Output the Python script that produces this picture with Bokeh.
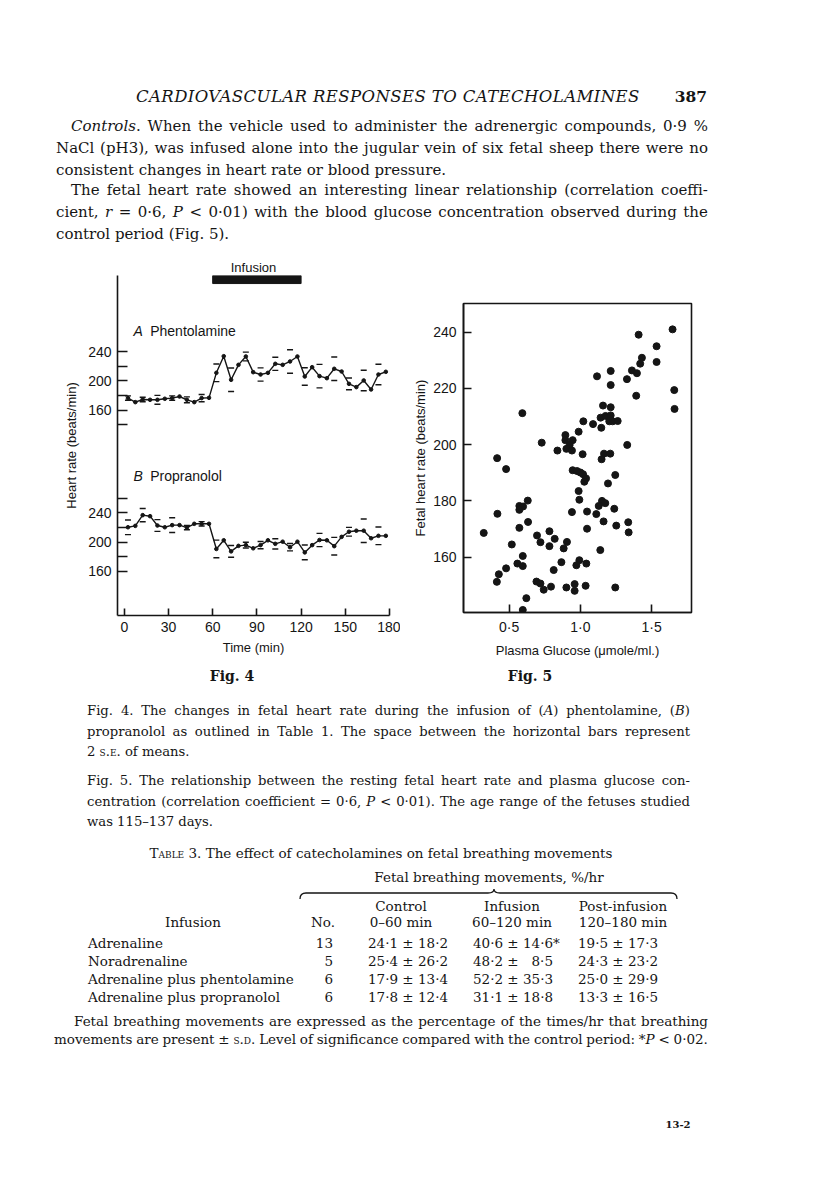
import re
from bokeh.plotting import figure
from bokeh.models import Range1d, FixedTicker, Div
from bokeh.layouts import column, row
from bokeh.embed import file_html
from bokeh.resources import INLINE
from bokeh.core.properties import value

NAN = float("nan")
SANS = "Liberation Sans"
SERIF = "DejaVu Serif"
INK = "#151515"

# ---------------- Fig. 4 data ----------------
time_min = [2.5, 7.5, 12.5, 17.5, 22.5, 27.5, 32.5, 37.5, 42.5, 47.5, 52.5, 57.5,
            62.5, 67.5, 72.5, 77.5, 82.5, 87.5, 92.5, 97.5, 102.5, 107.5, 112.5, 117.5,
            122.5, 127.5, 132.5, 137.5, 142.5, 147.5, 152.5, 157.5, 162.5, 167.5, 172.5, 177.5]
phentolamine = [176.4, 170.9, 174.5, 174.1, 174.1, 175.5, 176.4, 178.6, 174.1, 170.9, 176.4, 176.8,
                210.9, 233.6, 201.4, 221.8, 233.2, 211.8, 208.6, 210.9, 223.2, 221.8, 226.4, 233.2,
                205.9, 218.6, 206.4, 203.6, 216.4, 212.7, 195.9, 191.4, 200.5, 188.2, 208.6, 212.3]
phentolamine_se = [3, NAN, 3, NAN, 6, NAN, 3, NAN, 4, NAN, 5, NAN,
                   12, NAN, 16, NAN, 6, NAN, 9, NAN, 9, NAN, 16, NAN,
                   12, NAN, 16, NAN, 16, NAN, 8, NAN, 14, NAN, 14, NAN]
propranolol = [220.2, 222.1, 236.7, 235.3, 222.6, 220.2, 223.1, 223.1, 219.8, 224.9, 224.9, 224.9,
               190.6, 202.4, 187.3, 194.8, 195.8, 191.5, 195.8, 202.4, 197.6, 200.5, 193.0, 200.5,
               185.9, 195.8, 202.8, 202.4, 194.4, 207.1, 214.1, 215.5, 215.5, 205.2, 208.5, 208.5]
propranolol_se = [10, NAN, 9, NAN, 8, NAN, 10, NAN, 3, NAN, 3, NAN,
                  12, NAN, 8, NAN, 4, NAN, 5, NAN, 7, NAN, 5, NAN,
                  10, NAN, 9, NAN, 12, NAN, 6, NAN, 16, NAN, 12, NAN]
infusion_period = [60, 120]
time_ticks = [0, 30, 60, 90, 120, 150, 180]
hr_ticks_a = [140, 160, 180, 200, 220, 240]
hr_ticks_b = [160, 180, 200, 220, 240, 260]
hr_labelled = [160, 200, 240]
panel_b_shift = 220          # panel B is drawn 220 beats/min lower on the shared scale

# ---------------- Fig. 5 data ----------------
glucose = [1.647, 1.409, 1.535, 1.432, 1.535, 1.420, 1.362, 1.397, 1.213, 1.117, 1.327, 1.213,
           1.659, 1.392, 1.661, 0.593, 1.213, 1.159, 1.142, 1.177, 1.213, 1.203, 1.227, 1.262,
           1.021, 1.089, 1.147, 0.988, 0.895, 0.895, 0.946, 0.729, 1.329, 0.925, 0.902, 0.839,
           0.941, 1.166, 1.210, 1.016, 0.416, 1.149, 0.479,
           0.946, 0.977, 1.000, 1.019, 1.040, 1.028, 1.245, 1.194, 0.988, 0.993, 0.631, 0.572,
           0.598, 0.572, 1.152, 1.175, 1.129, 1.238, 0.941, 1.047, 0.418, 1.112, 1.163, 0.633,
           1.336, 1.252, 0.572, 1.047, 1.339, 0.322, 0.783, 0.696, 0.820, 0.906, 0.720, 0.519,
           0.783, 0.883, 1.140, 0.596, 0.993, 0.867, 0.558, 0.596, 1.042, 0.972, 0.479, 0.813,
           0.428, 0.414, 0.692, 0.720, 0.960, 1.037, 0.794, 0.902, 1.245, 0.743, 0.960, 0.621,
           0.596]
fetal_hr = [241.0, 239.1, 235.0, 230.9, 229.4, 228.8, 226.4, 225.4, 226.2, 224.3, 223.3, 221.2,
            219.4, 217.4, 212.7, 211.2, 213.3, 213.9, 209.6, 210.2, 210.4, 208.3, 208.3, 208.4,
            208.3, 207.3, 206.0, 204.6, 203.4, 201.6, 201.6, 200.7, 199.9, 199.9, 198.5, 197.9,
            197.9, 196.8, 196.8, 196.6, 195.2, 194.8, 191.3,
            190.9, 190.6, 190.1, 189.5, 188.0, 186.8, 189.2, 186.2, 183.5, 180.4, 180.1, 178.2,
            178.0, 176.8, 180.0, 179.2, 178.2, 177.2, 176.0, 176.2, 175.4, 175.3, 172.7, 172.5,
            172.4, 171.2, 170.4, 170.1, 168.8, 168.6, 169.2, 167.7, 166.5, 165.4, 165.3, 164.5,
            163.9, 163.1, 162.5, 160.4, 158.9, 158.2, 157.7, 156.8, 157.7, 157.1, 156.0, 155.4,
            153.9, 151.2, 151.3, 150.6, 150.4, 149.8, 149.5, 149.2, 149.2, 148.4, 148.0, 145.4,
            141.2]
glucose_ticks = [0.5, 1.0, 1.5]
glucose_tick_labels = ["0·5", "1·0", "1·5"]
fhr_ticks = [160, 180, 200, 220, 240]

# ---------------- Table 3 ----------------
tbl_infusion = ["Adrenaline", "Noradrenaline", "Adrenaline plus phentolamine", "Adrenaline plus propranolol"]
tbl_n = ["13", "5", "6", "6"]
tbl_control = ["24·1 ± 18·2", "25·4 ± 26·2", "17·9 ± 13·4", "17·8 ± 12·4"]
tbl_infus = ["40·6 ± 14·6*", "48·2 ±&nbsp;&nbsp;&nbsp;8·5", "52·2 ± 35·3", "31·1 ± 18·8"]
tbl_post = ["19·5 ± 17·3", "24·3 ± 23·2", "25·0 ± 29·9", "13·3 ± 16·5"]


def style_axis(ax, tick_in, label_size="14px"):
    ax.axis_line_color = INK
    ax.axis_line_width = 1.6
    ax.major_tick_line_color = INK
    ax.major_tick_line_width = 1.6
    ax.major_tick_in = tick_in
    ax.major_tick_out = 0
    ax.minor_tick_line_color = None
    ax.major_label_text_font = SANS
    ax.major_label_text_font_size = label_size
    ax.major_label_text_color = INK
    ax.axis_label_text_font = SANS
    ax.axis_label_text_font_size = "13px"
    ax.axis_label_text_font_style = "normal"
    ax.axis_label_text_color = INK


# ---------------- Fig. 4 ----------------
ya0, ya1 = -120.2, 343.7
p4 = figure(width=400, height=410, x_range=Range1d(-4.6, 180), y_range=Range1d(ya0, ya1),
            output_backend="svg", toolbar_location=None,
            min_border_left=117, min_border_right=11, min_border_top=25, min_border_bottom=45)
p4.extra_y_ranges = {"b": Range1d(ya0 + panel_b_shift, ya1 + panel_b_shift)}
p4.grid.visible = False
p4.outline_line_color = None
p4.background_fill_color = None
p4.border_fill_color = None
p4.title.text = "Infusion"
p4.title.align = "center"
p4.title.text_font = SANS
p4.title.text_font_size = "13px"
p4.title.text_font_style = "normal"
p4.title.text_color = INK
p4.title.standoff = 2

style_axis(p4.xaxis[0], 7)
p4.xaxis.ticker = FixedTicker(ticks=time_ticks)
p4.xaxis.major_label_standoff = 6
p4.xaxis.axis_label = "Time (min)"
p4.xaxis.axis_label_standoff = 5

style_axis(p4.yaxis[0], 10)
p4.yaxis.ticker = FixedTicker(ticks=hr_ticks_a + [v - panel_b_shift for v in hr_ticks_b])
overrides = {}
for v in hr_ticks_a:
    overrides[v] = str(v) if v in hr_labelled else ""
for v in hr_ticks_b:
    overrides[v - panel_b_shift] = str(v) if v in hr_labelled else ""
p4.yaxis.major_label_overrides = overrides
p4.yaxis.major_label_standoff = 6
p4.yaxis.axis_label = "Heart rate (beats/min)"
p4.yaxis.axis_label_standoff = 6

# infusion bar
p4.quad(left=[infusion_period[0]], right=[infusion_period[1]], top=[ya1], bottom=[ya1 - 11],
        color=INK)

for series, se, rng in ((phentolamine, phentolamine_se, "default"),
                        (propranolol, propranolol_se, "b")):
    hi = [v + s for v, s in zip(series, se)]
    lo = [v - s for v, s in zip(series, se)]
    p4.line(time_min, series, line_color=INK, line_width=1.4, y_range_name=rng)
    p4.scatter(time_min, series, size=3.6, color=INK, y_range_name=rng)
    p4.scatter(time_min, hi, marker="dash", size=6, line_width=1.4, line_color=INK, y_range_name=rng)
    p4.scatter(time_min, lo, marker="dash", size=6, line_width=1.4, line_color=INK, y_range_name=rng)

p4.text(x=[6.2], y=[267.3], text=["A"], text_font=value(SANS), text_font_style="italic",
        text_font_size="14px", text_baseline="middle", text_color=INK)
p4.text(x=[17.6], y=[267.3], text=["Phentolamine"], text_font=value(SANS),
        text_font_size="14px", text_baseline="middle", text_color=INK)
p4.text(x=[6.2], y=[290.8], text=["B"], text_font=value(SANS), text_font_style="italic",
        text_font_size="14px", text_baseline="middle", text_color=INK, y_range_name="b")
p4.text(x=[17.6], y=[290.8], text=["Propranolol"], text_font=value(SANS),
        text_font_size="14px", text_baseline="middle", text_color=INK, y_range_name="b")

# ---------------- Fig. 5 ----------------
p5 = figure(width=416, height=410, x_range=Range1d(0.18, 1.78), y_range=Range1d(140.3, 250.2),
            output_backend="svg", toolbar_location=None,
            min_border_left=63, min_border_right=125, min_border_top=53, min_border_bottom=45)
p5.grid.visible = False
p5.background_fill_color = None
p5.border_fill_color = None
p5.outline_line_color = INK
p5.outline_line_width = 1.6
p5.outline_line_alpha = 1.0
style_axis(p5.xaxis[0], 8)
style_axis(p5.yaxis[0], 8)
p5.xaxis.ticker = FixedTicker(ticks=glucose_ticks)
p5.xaxis.major_label_overrides = {t: l for t, l in zip(glucose_ticks, glucose_tick_labels)}
p5.xaxis.major_label_standoff = 6
p5.xaxis.axis_label = "Plasma Glucose (\u03bcmole/ml.)"
p5.xaxis.axis_label_standoff = 5
p5.yaxis.ticker = FixedTicker(ticks=fhr_ticks)
p5.yaxis.major_label_standoff = 7
p5.yaxis.axis_label = "Fetal heart rate (beats/min)"
p5.yaxis.axis_label_standoff = 2
p5.scatter(glucose, fetal_hr, size=7, color=INK)


# ---------------- page text (page pixel coordinates) ----------------
def tline(html, x, y, fs, oy, right=None, align="left", family=SERIF, extra=""):
    lh = round(fs * 1.25)
    top = y - oy - lh / 2
    st = (f"position:absolute;top:{top:.1f}px;font-family:'{family}';font-size:{fs}px;"
          f"line-height:{lh}px;color:{INK};white-space:nowrap;")
    if align == "center":
        st += f"left:{x - 250:.1f}px;width:500px;text-align:center;"
    elif align == "right":
        st += f"left:{x - 300:.1f}px;width:300px;text-align:right;"
    elif align == "justify":
        st += f"left:{x:.1f}px;width:{right - x}px;display:flex;justify-content:space-between;"
        words = re.split(r" (?![^<]*>)", html)
        html = "".join(f"<span>{w}</span>" for w in words)
    else:
        st += f"left:{x:.1f}px;"
    return f'<div style="{st}{extra}">{html}</div>'


SC = 'style="font-variant:small-caps"'
R = 708

head = []
oy = 0
head.append(tline("<i>CARDIOVASCULAR RESPONSES TO CATECHOLAMINES</i>", 386, 96, 16.5, oy,
                  align="center", extra="letter-spacing:0.4px;"))
head.append(tline("<b>387</b>", 707, 96, 15.5, oy, align="right"))
BL, BI = 56, 71
body = [
    (BI, 126, "<i>Controls</i>. When the vehicle used to administer the adrenergic compounds, 0·9 %", True),
    (BL, 148, "NaCl (pH3), was infused alone into the jugular vein of six fetal sheep there were no", True),
    (BL, 170, "consistent changes in heart rate or blood pressure.", False),
    (BI, 190, "The fetal heart rate showed an interesting linear relationship (correlation coeffi-", True),
    (BL, 212, "cient, <i>r</i> = 0·6, <i>P</i> &lt; 0·01) with the blood glucose concentration observed during the", True),
    (BL, 234, "control period (Fig. 5).", False),
]
for x, y, t, j in body:
    head.append(tline(t, x, y, 15, oy, right=R, align="justify" if j else "left"))

foot = []
oy = 660
foot.append(tline("<b>Fig. 4</b>", 232, 676, 14, oy, align="center"))
foot.append(tline("<b>Fig. 5</b>", 530, 676, 14, oy, align="center"))
CAP_L, CAP_R = 87, 690
caps = [
    (711, "Fig. 4. The changes in fetal heart rate during the infusion of (<i>A</i>) phentolamine, (<i>B</i>)", True),
    (731.5, "propranolol as outlined in Table 1. The space between the horizontal bars represent", True),
    (752, f"2 <span {SC}>s.e.</span> of means.", False),
    (781, "Fig. 5. The relationship between the resting fetal heart rate and plasma glucose con-", True),
    (801.5, "centration (correlation coefficient = 0·6, <i>P</i> &lt; 0·01). The age range of the fetuses studied", True),
    (822, "was 115–137 days.", False),
]
for y, t, j in caps:
    foot.append(tline(t, CAP_L, y, 13.2, oy, right=CAP_R, align="justify" if j else "left"))

foot.append(tline(f"T<span {SC}>able</span> 3. The effect of catecholamines on fetal breathing movements",
                  381, 853, 13.5, oy, align="center"))
foot.append(tline("Fetal breathing movements, %/hr", 489, 877, 13.5, oy, align="center"))
by = 893 - oy
foot.append(
    f'<svg style="position:absolute;left:0;top:0" width="816" height="300">'
    f'<path d="M300,{by+6} Q300,{by} 306,{by} L488,{by} Q494,{by} 494,{by-4} '
    f'Q494,{by} 500,{by} L671,{by} Q677,{by} 677,{by+6}" '
    f'fill="none" stroke="{INK}" stroke-width="1.3"/></svg>')
for cx, top, bottom in ((401, "Control", "0–60 min"), (512, "Infusion", "60–120 min"),
                        (623, "Post-infusion", "120–180 min")):
    foot.append(tline(top, cx, 906, 13.5, oy, align="center"))
    foot.append(tline(bottom, cx, 922, 13.5, oy, align="center"))
foot.append(tline("Infusion", 193, 922, 13.5, oy, align="center"))
foot.append(tline("No.", 323, 922, 13.5, oy, align="center"))
row_y = [943, 961, 979, 997]
for i, y in enumerate(row_y):
    foot.append(tline(tbl_infusion[i], 88, y, 13.5, oy))
    foot.append(tline(tbl_n[i], 333, y, 13.5, oy, align="right"))
    foot.append(tline(tbl_control[i], 368, y, 13.5, oy))
    foot.append(tline(tbl_infus[i], 473, y, 13.5, oy))
    foot.append(tline(tbl_post[i], 578, y, 13.5, oy))

foot.append(tline("Fetal breathing movements are expressed as the percentage of the times/hr that breathing",
                  74, 1021, 13.5, oy, right=R, align="justify"))
foot.append(tline(f"movements are present ± <span {SC}>s.d.</span> Level of significance compared with the control period: *<i>P</i> &lt; 0·02.",
                  54, 1039, 13.5, oy, right=R, align="justify"))
foot.append(tline("<b>13-2</b>", 678, 1125, 10, oy, align="center"))

header_div = Div(text='<div style="position:relative;width:816px;height:250px;">' + "".join(head) + "</div>",
                 width=816, height=250, margin=0)
footer_div = Div(text='<div style="position:relative;width:816px;height:523px;">' + "".join(foot) + "</div>",
                 width=816, height=523, margin=0)

figs = row(column(p4, spacing=0), column(p5, spacing=0), spacing=0)
page = column(header_div, figs, footer_div, spacing=0)
open("out.html", "w").write(file_html(page, INLINE))
